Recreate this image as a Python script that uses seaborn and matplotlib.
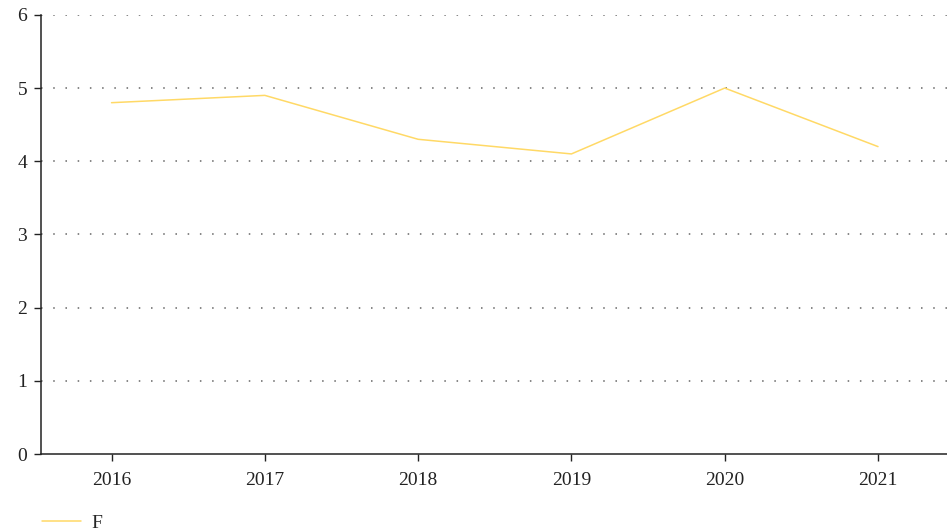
import pandas as pd
import seaborn as sns
import matplotlib.pyplot as plt

years = ["2016", "2017", "2018", "2019", "2020", "2021"]
f_values = [4.8, 4.9, 4.3, 4.1, 5.0, 4.2]
yticks = [0, 1, 2, 3, 4, 5, 6]

df = pd.DataFrame({"year": years, "F": f_values})

sns.set_theme(style="white")
plt.rcParams['font.family'] = ['Liberation Serif', 'DejaVu Serif']

fig = plt.figure(figsize=(9.47, 5.31), dpi=100)
ax = fig.add_axes([0.0433, 0.145, 0.9567, 0.827])

sns.lineplot(data=df, x="year", y="F", color="#ffd966", linewidth=1.1,
             sort=False, ax=ax, label="F", legend=False)

ax.set_ylim(0, 6)
ax.set_yticks(yticks)
ax.set_xlim(-0.46, 5.45)
ax.set_xlabel("")
ax.set_ylabel("")

for y in yticks[1:]:
    ax.axhline(y, color="#666666", linewidth=1.1, linestyle=(0, (1, 7)), zorder=0)

sns.despine(ax=ax)
for side in ["left", "bottom"]:
    ax.spines[side].set_color("#222222")
    ax.spines[side].set_linewidth(1.1)
ax.tick_params(axis="both", direction="out", length=5, width=1, color="#222222",
               labelsize=14, labelcolor="#222222", bottom=True, left=True, pad=5)
ax.tick_params(axis="x", pad=8)

handles, labels = ax.get_legend_handles_labels()
fig.legend(handles, labels, loc="lower left", bbox_to_anchor=(0.026, -0.035),
           frameon=False, fontsize=14, handlelength=2.0, handletextpad=0.55)

fig.savefig("out.png", dpi=100)
